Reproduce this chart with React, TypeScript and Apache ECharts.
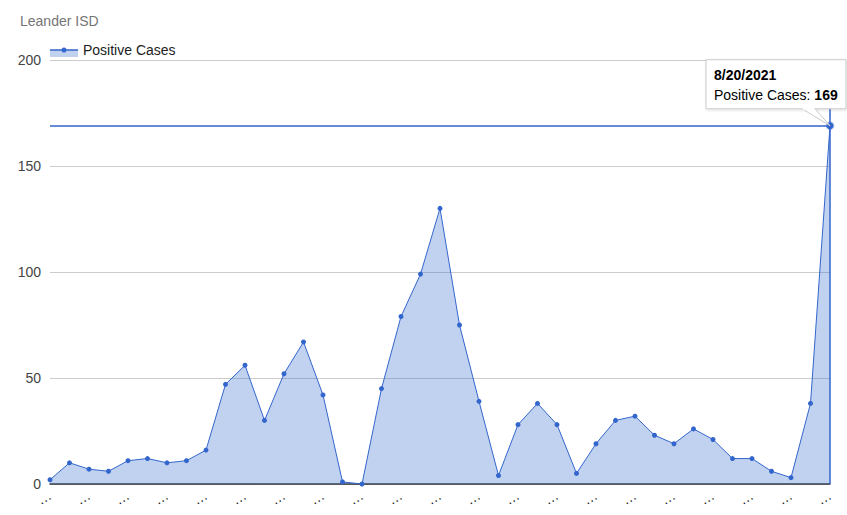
import React, { useEffect, useRef } from "react";
import * as echarts from "echarts";

const categories = [
  "9/11/2020", "9/18/2020", "9/25/2020", "10/2/2020", "10/9/2020", "10/16/2020", "10/23/2020",
  "10/30/2020", "11/6/2020", "11/13/2020", "11/20/2020", "11/27/2020", "12/4/2020", "12/11/2020",
  "12/18/2020", "12/25/2020", "1/1/2021", "1/8/2021", "1/15/2021", "1/22/2021", "1/29/2021",
  "2/5/2021", "2/12/2021", "2/19/2021", "2/26/2021", "3/5/2021", "3/12/2021", "3/19/2021",
  "3/26/2021", "4/2/2021", "4/9/2021", "4/16/2021", "4/23/2021", "4/30/2021", "5/7/2021",
  "5/14/2021", "5/21/2021", "5/28/2021", "6/4/2021", "8/13/2021", "8/20/2021",
];

const positiveCases = [
  2, 10, 7, 6, 11, 12, 10, 11, 16, 47, 56, 30, 52, 67, 42, 1, 0, 45, 79, 99, 130,
  75, 39, 4, 28, 38, 28, 5, 19, 30, 32, 23, 19, 26, 21, 12, 12, 6, 3, 38, 169,
];

const seriesName = "Positive Cases";
const chartTitle = "Leander ISD";
const yMin = 0;
const yMax = 200;
const yInterval = 50;

const BLUE = "#3366cc";
const FONT = "Arial, 'Liberation Sans', sans-serif";

export default function App() {
  const ref = useRef<HTMLDivElement>(null);

  useEffect(() => {
    if (!ref.current) return;
    const chart = echarts.init(ref.current, null, { renderer: "svg" });
    const lastIdx = positiveCases.length - 1;
    const lastVal = positiveCases[lastIdx];

    chart.setOption({
      animation: false,
      textStyle: { fontFamily: FONT },
      title: {
        text: chartTitle,
        left: 15,
        top: 9,
        textStyle: { fontSize: 14, fontWeight: "normal", color: "#757575", fontFamily: FONT },
      },
      grid: { left: 50, right: 17, top: 60, bottom: 31 },
      xAxis: {
        type: "category",
        data: categories,
        boundaryGap: false,
        axisLine: { show: true, lineStyle: { color: "#333", width: 1.5 } },
        axisTick: { show: false },
        axisLabel: {
          interval: 1,
          rotate: 30,
          margin: 10,
          fontSize: 14,
          color: "#222",
          formatter: () => "…",
        },
        splitLine: { show: false },
      },
      yAxis: {
        type: "value",
        min: yMin,
        max: yMax,
        interval: yInterval,
        axisLine: { show: false },
        axisTick: { show: false },
        axisLabel: { fontSize: 14, color: "#444", margin: 9 },
        splitLine: { lineStyle: { color: "#cccccc", width: 1 } },
      },
      series: [
        {
          name: seriesName,
          type: "line",
          data: positiveCases.map((v, i) =>
            i === lastIdx
              ? {
                  value: v,
                  symbolSize: 7,
                  itemStyle: { color: BLUE, borderColor: "rgba(51,102,204,0.3)", borderWidth: 2 },
                }
              : v
          ),
          symbol: "circle",
          symbolSize: 5,
          showSymbol: true,
          itemStyle: { color: BLUE },
          lineStyle: { color: BLUE, width: 1 },
          areaStyle: { color: BLUE, opacity: 0.3 },
          z: 3,
          markLine: {
            silent: true,
            symbol: "none",
            label: { show: false },
            lineStyle: { color: BLUE, width: 1.5, type: "solid" },
            data: [{ yAxis: lastVal }, { xAxis: lastIdx }],
          },
        },
      ],
    });

    const pt = chart.convertToPixel({ xAxisIndex: 0, yAxisIndex: 0 }, [lastIdx, lastVal]) as number[];
    const px = pt[0];
    const py = pt[1];
    const boxX = px - 124;
    const boxY = py - 66;
    const boxW = 140;
    const boxH = 49;

    chart.setOption({
      graphic: [
        // legend
        {
          type: "rect",
          shape: { x: 50, y: 50, width: 28, height: 7 },
          style: { fill: "rgba(51,102,204,0.3)" },
          z: 10,
        },
        {
          type: "line",
          shape: { x1: 50, y1: 50, x2: 78, y2: 50 },
          style: { stroke: BLUE, lineWidth: 1.5 },
          z: 11,
        },
        {
          type: "circle",
          shape: { cx: 64, cy: 50, r: 2.5 },
          style: { fill: BLUE },
          z: 12,
        },
        {
          type: "text",
          x: 83,
          y: 50,
          style: {
            text: seriesName,
            fontSize: 14,
            fill: "#222",
            fontFamily: FONT,
            verticalAlign: "middle",
          },
          z: 12,
        },
        // tooltip
        {
          type: "rect",
          shape: { x: boxX, y: boxY, width: boxW, height: boxH },
          style: {
            fill: "#fff",
            stroke: "#cccccc",
            lineWidth: 1,
            shadowBlur: 3,
            shadowColor: "rgba(0,0,0,0.15)",
            shadowOffsetX: 1,
            shadowOffsetY: 1,
          },
          z: 20,
        },
        {
          type: "polygon",
          shape: { points: [[px - 28, py - 17], [px - 15, py - 17], [px, py]] },
          style: { fill: "#fff", stroke: "#cccccc", lineWidth: 1 },
          z: 21,
        },
        {
          type: "line",
          shape: { x1: px - 27.5, y1: py - 17, x2: px - 15.5, y2: py - 17 },
          style: { stroke: "#fff", lineWidth: 2 },
          z: 22,
        },
        {
          type: "text",
          x: boxX + 8,
          y: boxY + 15,
          style: {
            text: categories[lastIdx],
            fontSize: 14,
            fontWeight: "bold",
            fill: "#000",
            fontFamily: FONT,
            verticalAlign: "middle",
          },
          z: 23,
        },
        {
          type: "text",
          x: boxX + 8,
          y: boxY + 35,
          style: {
            text: "{n|" + seriesName + ": }{b|" + lastVal + "}",
            fontFamily: FONT,
            verticalAlign: "middle",
            rich: {
              n: { fontSize: 14, fill: "#000", fontFamily: FONT },
              b: { fontSize: 14, fill: "#000", fontWeight: "bold", fontFamily: FONT },
            },
          },
          z: 23,
        },
      ],
    });

    return () => chart.dispose();
  }, []);

  return (
    <div
      ref={ref}
      style={{ position: "absolute", left: 0, top: 0, width: 847, height: 515, background: "#fff" }}
    />
  );
}
